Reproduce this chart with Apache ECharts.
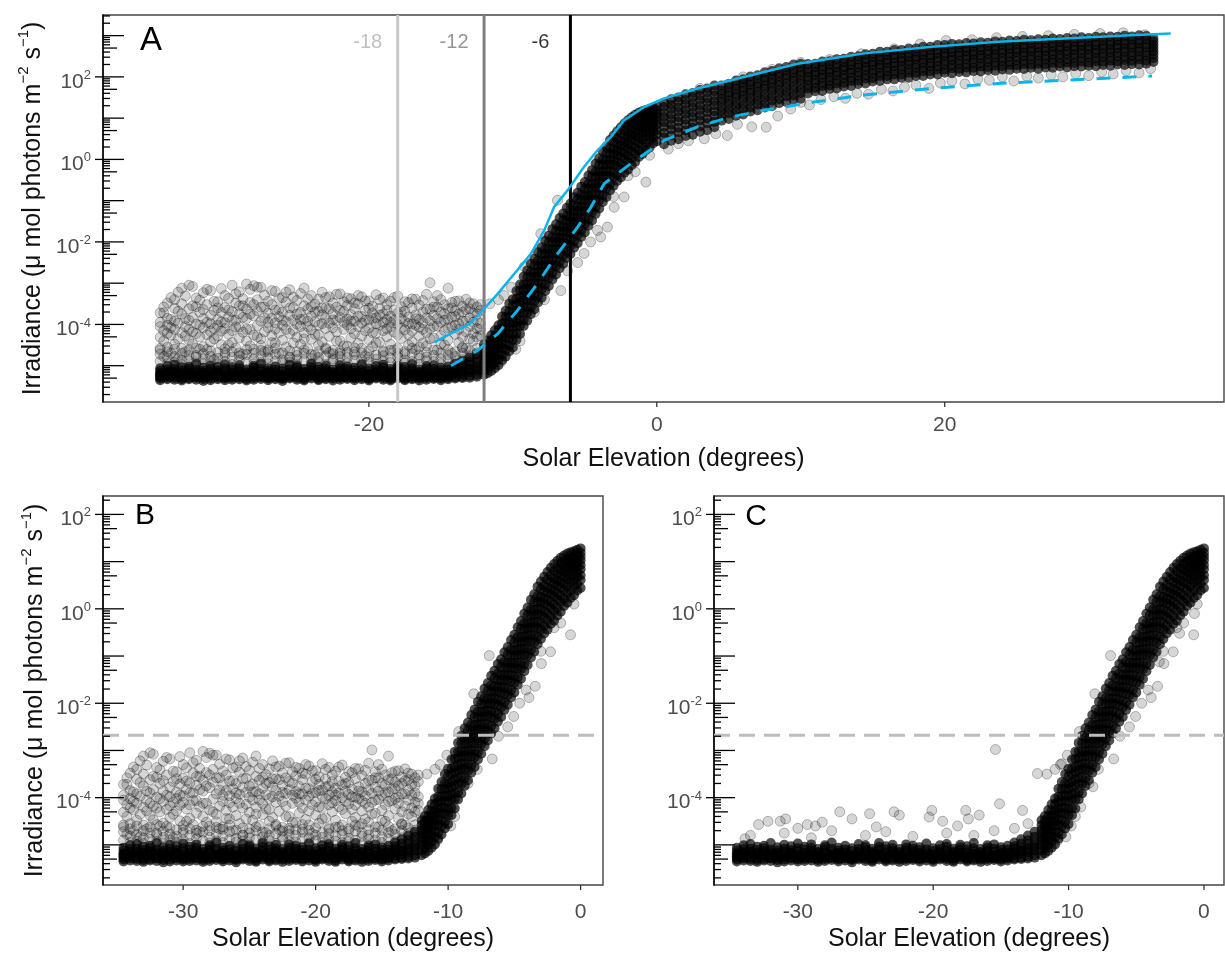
<!DOCTYPE html>
<html>
<head>
<meta charset="utf-8">
<title>Irradiance vs solar elevation</title>
<script src="https://cdn.jsdelivr.net/npm/echarts@6.0.0/dist/echarts.min.js"></script>
<style>
  html, body { margin: 0; padding: 0; background: #fff; }
  #chart { width: 1225px; height: 957px; }
</style>
</head>
<body>
<div id="chart"></div>
<script>
// Solar elevation (degrees) against irradiance; irradiance stored as log10 values.
// Rows are [elevation, log10 readings...], pairs are [elevation, log10 reading].

// dense night floor (panels A, B, C)
const floorRows = [
  [-34.5,-5.31,-5.24,-5.18,-5.12,-5.27,-5.06,-5.35,-5.20],
  [-34.0,-5.29,-5.22,-5.15,-5.33,-5.09,-5.25,-5.01,-5.19],
  [-33.5,-5.34,-5.26,-5.21,-5.14,-5.30,-5.08,-5.17,-4.98],
  [-33.0,-5.28,-5.23,-5.16,-5.11,-5.32,-5.04,-5.20,-5.36],
  [-32.5,-5.30,-5.25,-5.19,-5.13,-5.07,-5.33,-5.22,-5.02],
  [-32.0,-5.27,-5.21,-5.34,-5.15,-5.10,-5.29,-5.18,-4.96],
  [-31.5,-5.32,-5.24,-5.17,-5.12,-5.28,-5.05,-5.20,-5.37],
  [-31.0,-5.26,-5.31,-5.19,-5.14,-5.08,-5.23,-5.35,-5.00],
  [-30.5,-5.29,-5.22,-5.16,-5.33,-5.11,-5.26,-5.03,-5.18],
  [-30.0,-5.31,-5.25,-5.20,-5.13,-5.35,-5.07,-5.28,-4.97],
  [-29.5,-5.27,-5.22,-5.17,-5.30,-5.10,-5.24,-5.34,-5.04],
  [-29.0,-5.33,-5.26,-5.19,-5.12,-5.29,-5.06,-5.21,-4.99],
  [-28.5,-5.28,-5.23,-5.15,-5.32,-5.09,-5.25,-5.18,-5.36],
  [-28.0,-5.30,-5.24,-5.18,-5.11,-5.34,-5.05,-5.27,-5.01],
  [-27.5,-5.26,-5.32,-5.20,-5.14,-5.28,-5.08,-5.22,-4.95],
  [-27.0,-5.31,-5.25,-5.17,-5.12,-5.35,-5.06,-5.29,-5.19],
  [-26.5,-5.29,-5.23,-5.16,-5.33,-5.10,-5.26,-5.02,-5.20],
  [-26.0,-5.32,-5.27,-5.21,-5.13,-5.30,-5.07,-5.24,-5.37],
  [-25.5,-5.28,-5.22,-5.15,-5.31,-5.09,-5.25,-5.18,-4.98],
  [-25.0,-5.30,-5.26,-5.19,-5.12,-5.34,-5.05,-5.23,-5.01],
  [-24.5,-5.27,-5.33,-5.20,-5.14,-5.29,-5.08,-5.17,-5.36],
  [-24.0,-5.31,-5.24,-5.18,-5.11,-5.27,-5.04,-5.22,-4.96],
  [-23.5,-5.29,-5.23,-5.16,-5.32,-5.10,-5.25,-5.35,-5.03],
  [-23.0,-5.33,-5.26,-5.20,-5.13,-5.30,-5.07,-5.19,-5.00],
  [-22.5,-5.28,-5.22,-5.15,-5.31,-5.09,-5.24,-5.18,-5.36],
  [-22.0,-5.30,-5.25,-5.19,-5.12,-5.34,-5.06,-5.27,-4.99],
  [-21.5,-5.27,-5.32,-5.21,-5.14,-5.29,-5.08,-5.23,-5.02],
  [-21.0,-5.31,-5.24,-5.17,-5.11,-5.35,-5.05,-5.28,-5.20],
  [-20.5,-5.29,-5.23,-5.16,-5.33,-5.10,-5.26,-5.19,-4.97],
  [-20.0,-5.32,-5.27,-5.20,-5.13,-5.30,-5.07,-5.22,-5.36],
  [-19.5,-5.28,-5.22,-5.15,-5.31,-5.09,-5.25,-5.18,-5.01],
  [-19.0,-5.30,-5.26,-5.19,-5.12,-5.34,-5.04,-5.23,-4.98],
  [-18.5,-5.27,-5.33,-5.20,-5.14,-5.29,-5.08,-5.17,-5.36],
  [-18.0,-5.31,-5.24,-5.18,-5.11,-5.27,-5.05,-5.22,-5.00],
  [-17.5,-5.29,-5.23,-5.16,-5.32,-5.10,-5.25,-5.35,-5.03],
  [-17.0,-5.33,-5.26,-5.20,-5.13,-5.30,-5.07,-5.19,-4.96],
  [-16.5,-5.28,-5.22,-5.15,-5.31,-5.09,-5.24,-5.18,-5.36],
  [-16.0,-5.30,-5.25,-5.19,-5.12,-5.34,-5.06,-5.27,-5.01],
  [-15.5,-5.27,-5.32,-5.21,-5.14,-5.29,-5.08,-5.23,-4.99],
  [-15.0,-5.31,-5.24,-5.17,-5.11,-5.35,-5.05,-5.28,-5.20],
  [-14.5,-5.29,-5.23,-5.16,-5.33,-5.10,-5.26,-5.19,-5.02],
  [-14.0,-5.28,-5.22,-5.15,-5.09,-5.31,-5.03,-5.18,-4.95],
  [-13.5,-5.27,-5.20,-5.13,-5.06,-5.30,-4.97,-5.12,-4.88],
  [-13.0,-5.25,-5.16,-5.07,-4.98,-5.29,-4.90,-5.11,-4.80],
  [-12.5,-5.22,-5.12,-5.02,-4.92,-5.27,-4.83,-5.06,-4.72]
];

// scattered night cloud above the floor (panels A, B)
const cloudRows = [
  [-34.50,-4.62,-3.95,-4.31,-4.05,-3.72],[-34.25,-4.15,-3.72,-4.78,-4.40,-3.58],
  [-34.00,-3.48,-4.55,-4.02,-4.22,-3.85],[-33.75,-3.88,-4.26,-3.35,-4.70,-4.08],
  [-33.50,-4.12,-3.61,-4.48,-3.92,-3.40],[-33.25,-3.22,-3.97,-4.35,-4.83,-3.68],
  [-33.00,-3.75,-4.20,-3.50,-4.58,-3.12],[-32.75,-4.05,-3.31,-4.66,-3.86,-4.28],
  [-32.50,-3.62,-4.38,-3.90,-4.12,-3.05],[-32.25,-3.08,-4.47,-3.83,-4.18,-3.55],
  [-32.00,-4.22,-3.57,-4.75,-3.99,-3.36],[-31.75,-3.70,-4.30,-3.41,-4.02,-4.60],
  [-31.50,-4.08,-3.23,-4.54,-3.86,-3.64],[-31.25,-3.95,-4.61,-3.52,-4.25,-3.15],
  [-31.00,-3.18,-4.17,-3.78,-4.42,-3.98],[-30.75,-4.35,-3.66,-4.85,-3.44,-4.10],
  [-30.50,-3.45,-4.02,-4.28,-3.88,-3.60],[-30.25,-3.71,-4.49,-3.13,-4.16,-3.94],
  [-30.00,-4.10,-3.59,-4.68,-3.96,-3.30],[-29.75,-3.37,-4.24,-3.82,-4.50,-3.65],
  [-29.50,-4.44,-3.05,-3.69,-4.15,-3.90],[-29.25,-3.90,-4.57,-3.48,-4.06,-3.26],
  [-29.00,-3.21,-4.06,-4.33,-3.74,-3.55],[-28.75,-4.72,-3.55,-4.19,-3.83,-3.38],
  [-28.50,-3.02,-3.86,-4.40,-3.63,-4.12],[-28.25,-3.15,-4.12,-3.47,-3.75,-4.52],
  [-28.00,-3.06,-3.79,-4.26,-4.60,-3.52],[-27.75,-3.40,-4.03,-3.67,-4.30,-3.10],
  [-27.50,-3.10,-4.35,-3.92,-4.51,-3.58],[-27.25,-3.58,-4.18,-3.29,-3.84,-4.66],
  [-27.00,-4.08,-3.73,-4.62,-3.44,-3.95],[-26.75,-3.85,-4.27,-3.52,-3.18,-4.44],
  [-26.50,-3.20,-4.45,-3.96,-4.11,-3.65],[-26.25,-3.64,-4.70,-3.81,-4.20,-3.37],
  [-26.00,-3.35,-4.02,-4.38,-3.70,-3.90],[-25.75,-3.93,-4.55,-3.46,-4.12,-3.22],
  [-25.50,-3.16,-3.78,-4.22,-4.80,-3.60],[-25.25,-3.59,-4.14,-3.89,-4.45,-3.34],
  [-25.00,-4.31,-3.42,-3.99,-4.66,-3.75],[-24.75,-3.71,-4.48,-3.25,-4.05,-3.88],
  [-24.50,-3.12,-3.87,-4.20,-3.55,-4.35],[-24.25,-4.05,-3.63,-4.59,-3.38,-3.92],
  [-24.00,-3.30,-4.36,-3.80,-4.13,-3.57],[-23.75,-3.94,-4.74,-3.51,-4.24,-3.70],
  [-23.50,-3.68,-4.25,-3.39,-4.02,-4.50],[-23.25,-4.42,-3.77,-3.22,-3.98,-3.60],
  [-23.00,-3.60,-4.10,-4.57,-3.85,-3.35],[-22.75,-3.33,-4.29,-3.97,-3.62,-4.68],
  [-22.50,-3.74,-4.63,-3.48,-4.08,-3.89],[-22.25,-4.18,-3.58,-3.91,-4.40,-3.27],
  [-22.00,-3.26,-4.40,-3.83,-4.70,-3.66],[-21.75,-3.69,-4.12,-3.45,-3.95,-4.52],
  [-21.50,-4.01,-3.54,-4.53,-3.87,-3.36],[-21.25,-3.38,-4.33,-3.76,-4.10,-3.92],
  [-21.00,-3.92,-4.22,-3.62,-4.67,-3.48],[-20.75,-3.50,-4.05,-4.46,-3.80,-3.30],
  [-20.50,-3.81,-3.33,-4.28,-3.97,-4.58],[-20.25,-4.15,-3.66,-4.76,-3.43,-3.90],
  [-20.00,-3.43,-3.89,-4.37,-4.09,-3.61],[-19.75,-3.72,-4.54,-3.56,-4.20,-3.85],
  [-19.50,-3.98,-3.28,-4.21,-3.84,-4.45],[-19.25,-4.43,-3.61,-4.02,-3.40,-3.77],
  [-19.00,-3.36,-3.95,-4.64,-3.75,-4.15],[-18.75,-4.11,-3.52,-4.30,-3.88,-3.66],
  [-18.50,-3.80,-4.48,-3.44,-4.06,-3.95],[-18.25,-3.65,-4.19,-3.90,-4.62,-3.35],
  [-18.00,-3.31,-4.00,-4.58,-3.73,-4.25],[-17.75,-3.86,-4.34,-3.57,-4.08,-3.70],
  [-17.50,-4.13,-3.68,-4.71,-3.93,-3.45],[-17.25,-3.47,-4.25,-3.82,-4.50,-3.98],
  [-17.00,-3.99,-3.60,-4.42,-4.16,-3.38],[-16.75,-3.39,-3.77,-4.61,-4.02,-3.86],
  [-16.50,-4.07,-3.53,-4.28,-3.88,-4.55],[-16.25,-3.70,-4.45,-3.96,-3.42,-4.12],
  [-16.00,-3.27,-3.84,-4.20,-4.52,-3.63],[-15.75,-2.99,-3.63,-4.10,-3.91,-4.35],
  [-15.50,-3.45,-4.33,-3.78,-4.05,-3.58],[-15.25,-3.58,-4.04,-4.62,-3.86,-3.30],
  [-15.00,-3.40,-3.95,-4.27,-3.70,-4.48],[-14.75,-3.74,-4.15,-3.52,-4.50,-3.90],
  [-14.50,-3.12,-3.88,-4.38,-3.62,-4.08],[-14.25,-3.60,-4.06,-3.47,-4.70,-3.82],
  [-14.00,-3.81,-4.24,-3.67,-4.02,-3.44],[-13.75,-3.43,-3.99,-4.44,-4.12,-3.75],
  [-13.50,-3.70,-4.30,-3.56,-3.92,-4.55],[-13.25,-3.39,-3.92,-4.18,-4.58,-3.64],
  [-13.00,-3.62,-4.05,-3.84,-4.35,-3.48],[-12.75,-3.50,-4.22,-3.95,-4.40,-3.72],
  [-12.50,-3.75,-4.10,-3.58,-4.30,-3.90],[-12.25,-3.66,-3.98,-4.27,-3.52,-4.12]
];

// lower edge of the cloud, where it meets the floor (panels A, B)
const cloudLowRows = [
  [-34.5,-4.90,-4.72,-4.58],[-34.0,-4.95,-4.66,-4.81],[-33.5,-4.78,-4.92,-4.60],[-33.0,-4.86,-4.70,-4.97],
  [-32.5,-4.62,-4.88,-4.75],[-32.0,-4.93,-4.79,-4.57],[-31.5,-4.71,-4.96,-4.84],[-31.0,-4.89,-4.64,-4.77],
  [-30.5,-4.82,-4.95,-4.68],[-30.0,-4.74,-4.90,-4.59],[-29.5,-4.97,-4.80,-4.66],[-29.0,-4.69,-4.87,-4.76],
  [-28.5,-4.91,-4.73,-4.61],[-28.0,-4.84,-4.96,-4.70],[-27.5,-4.77,-4.63,-4.92],[-27.0,-4.95,-4.81,-4.67],
  [-26.5,-4.72,-4.89,-4.58],[-26.0,-4.86,-4.69,-4.94],[-25.5,-4.64,-4.92,-4.79],[-25.0,-4.98,-4.75,-4.85],
  [-24.5,-4.70,-4.88,-4.62],[-24.0,-4.83,-4.95,-4.73],[-23.5,-4.91,-4.66,-4.80],[-23.0,-4.76,-4.97,-4.60],
  [-22.5,-4.88,-4.71,-4.83],[-22.0,-4.65,-4.93,-4.78],[-21.5,-4.94,-4.80,-4.68],[-21.0,-4.73,-4.87,-4.57],
  [-20.5,-4.85,-4.96,-4.69],[-20.0,-4.79,-4.64,-4.91],[-19.5,-4.96,-4.74,-4.84],[-19.0,-4.67,-4.89,-4.76],
  [-18.5,-4.92,-4.81,-4.63],[-18.0,-4.78,-4.95,-4.70],[-17.5,-4.86,-4.66,-4.93],[-17.0,-4.71,-4.90,-4.58],
  [-16.5,-4.97,-4.82,-4.74],[-16.0,-4.68,-4.88,-4.79],[-15.5,-4.90,-4.75,-4.62],[-15.0,-4.83,-4.95,-4.69],
  [-14.5,-4.74,-4.61,-4.87],[-14.0,-4.93,-4.78,-4.66],[-13.5,-4.70,-4.85,-4.57],[-13.0,-4.88,-4.64,-4.76],
  [-12.5,-4.80,-4.58,-4.69]
];

// twilight rise (panels A, B, C)
const riseRows = [
  [-12.00,-5.22,-5.12,-5.01,-4.93,-4.85,-4.76,-4.68,-4.58,-4.48],
  [-11.75,-5.18,-5.07,-4.96,-4.86,-4.78,-4.68,-4.59,-4.49,-4.39],
  [-11.50,-5.13,-5.00,-4.90,-4.78,-4.68,-4.59,-4.48,-4.39,-4.26],
  [-11.25,-5.06,-4.93,-4.81,-4.70,-4.59,-4.50,-4.38,-4.28,-4.14],
  [-11.00,-4.99,-4.84,-4.73,-4.60,-4.49,-4.38,-4.28,-4.14,-4.02],
  [-10.75,-4.87,-4.74,-4.58,-4.47,-4.32,-4.23,-4.09,-3.98,-3.81],
  [-10.50,-4.78,-4.61,-4.48,-4.33,-4.22,-4.08,-3.97,-3.82,-3.67],
  [-10.25,-4.65,-4.51,-4.34,-4.22,-4.07,-3.96,-3.81,-3.69,-3.50],
  [-10.00,-4.56,-4.37,-4.24,-4.08,-3.96,-3.82,-3.71,-3.54,-3.39],
  [-9.75,-4.37,-4.22,-4.04,-3.92,-3.77,-3.66,-3.51,-3.38,-3.19],
  [-9.50,-4.23,-4.04,-3.90,-3.73,-3.61,-3.46,-3.35,-3.18,-3.03],
  [-9.25,-4.04,-3.89,-3.71,-3.58,-3.42,-3.31,-3.16,-3.03,-2.84],
  [-9.00,-3.91,-3.71,-3.57,-3.40,-3.28,-3.13,-3.02,-2.85,-2.69],
  [-8.75,-3.75,-3.59,-3.41,-3.28,-3.12,-3.01,-2.86,-2.73,-2.53],
  [-8.50,-3.63,-3.43,-3.29,-3.12,-3.00,-2.85,-2.74,-2.57,-2.41],
  [-8.25,-3.47,-3.31,-3.13,-3.00,-2.84,-2.73,-2.58,-2.45,-2.25],
  [-8.00,-3.35,-3.15,-3.01,-2.84,-2.72,-2.57,-2.46,-2.29,-2.13],
  [-7.75,-3.19,-3.03,-2.85,-2.72,-2.56,-2.45,-2.30,-2.17,-1.97],
  [-7.50,-3.07,-2.87,-2.73,-2.56,-2.44,-2.29,-2.18,-2.01,-1.85],
  [-7.25,-2.91,-2.75,-2.57,-2.44,-2.28,-2.17,-2.02,-1.89,-1.69],
  [-7.00,-2.79,-2.59,-2.45,-2.28,-2.16,-2.01,-1.90,-1.73,-1.57],
  [-6.75,-2.64,-2.48,-2.30,-2.17,-2.01,-1.90,-1.75,-1.62,-1.42],
  [-6.50,-2.53,-2.33,-2.19,-2.02,-1.90,-1.75,-1.64,-1.47,-1.31],
  [-6.25,-2.39,-2.23,-2.05,-1.92,-1.76,-1.65,-1.50,-1.37,-1.17],
  [-6.00,-2.29,-2.09,-1.95,-1.78,-1.66,-1.51,-1.40,-1.23,-1.07],
  [-5.75,-2.14,-1.98,-1.80,-1.67,-1.51,-1.40,-1.25,-1.12,-0.92],
  [-5.50,-2.03,-1.83,-1.69,-1.52,-1.40,-1.25,-1.14,-0.97,-0.81],
  [-5.25,-1.88,-1.72,-1.54,-1.41,-1.25,-1.14,-0.99,-0.86,-0.66],
  [-5.00,-1.77,-1.57,-1.43,-1.26,-1.14,-0.99,-0.88,-0.71,-0.55],
  [-4.75,-1.61,-1.45,-1.27,-1.14,-0.98,-0.87,-0.72,-0.59,-0.39],
  [-4.50,-1.48,-1.28,-1.14,-0.97,-0.85,-0.70,-0.59,-0.42,-0.26],
  [-4.25,-1.32,-1.16,-0.98,-0.85,-0.69,-0.58,-0.43,-0.30,-0.10],
  [-4.00,-1.19,-0.99,-0.85,-0.68,-0.56,-0.41,-0.30,-0.13,0.03],
  [-3.75,-1.03,-0.87,-0.69,-0.56,-0.40,-0.29,-0.14,-0.01,0.19],
  [-3.50,-0.91,-0.71,-0.57,-0.40,-0.28,-0.13,-0.02,0.15,0.31],
  [-3.25,-0.75,-0.59,-0.41,-0.28,-0.12,-0.01,0.14,0.27,0.47],
  [-3.00,-0.64,-0.44,-0.30,-0.13,-0.01,0.14,0.25,0.42,0.58],
  [-2.75,-0.52,-0.36,-0.18,-0.05,0.11,0.22,0.37,0.50,0.68],
  [-2.50,-0.44,-0.24,-0.10,0.07,0.19,0.34,0.45,0.62,0.78],
  [-2.25,-0.32,-0.16,0.02,0.15,0.31,0.42,0.57,0.70,0.87],
  [-2.00,-0.25,-0.05,0.09,0.26,0.38,0.53,0.64,0.80,0.95],
  [-1.75,-0.14,0.02,0.20,0.33,0.49,0.60,0.74,0.86,1.02],
  [-1.50,-0.06,0.14,0.28,0.45,0.57,0.70,0.82,0.95,1.08],
  [-1.25,0.06,0.22,0.40,0.53,0.67,0.78,0.90,1.01,1.13],
  [-1.00,0.13,0.33,0.47,0.62,0.74,0.86,0.96,1.06,1.17],
  [-0.75,0.23,0.39,0.56,0.68,0.80,0.90,1.00,1.10,1.20],
  [-0.50,0.29,0.48,0.60,0.73,0.85,0.95,1.04,1.13,1.22],
  [-0.25,0.39,0.53,0.68,0.78,0.90,0.99,1.08,1.16,1.25],
  [0.00,0.44,0.61,0.71,0.84,0.93,1.03,1.11,1.19,1.28]
];

// daytime band (panel A)
const dayRows = [
  [0.5,0.37,0.53,0.64,0.79,0.90,1.03,1.13,1.27,1.37],
  [1.0,0.45,0.58,0.73,0.84,0.98,1.08,1.22,1.32,1.45],
  [1.5,0.49,0.66,0.77,0.92,1.02,1.16,1.26,1.40,1.50],
  [2.0,0.57,0.70,0.85,0.96,1.10,1.20,1.34,1.44,1.58],
  [2.5,0.60,0.77,0.88,1.03,1.13,1.27,1.37,1.51,1.61],
  [3.0,0.67,0.80,0.95,1.06,1.20,1.30,1.44,1.54,1.68],
  [3.5,0.71,0.88,0.99,1.14,1.24,1.38,1.48,1.62,1.72],
  [4.0,0.78,0.91,1.06,1.17,1.31,1.41,1.55,1.65,1.79],
  [4.5,0.94,1.04,1.17,1.26,1.39,1.47,1.59,1.67,1.79],
  [5.0,0.98,1.12,1.21,1.34,1.43,1.55,1.63,1.75,1.83],
  [5.5,1.06,1.16,1.29,1.38,1.51,1.59,1.71,1.79,1.91],
  [6.0,1.09,1.23,1.32,1.45,1.54,1.66,1.74,1.86,1.94],
  [6.5,1.16,1.26,1.39,1.48,1.61,1.69,1.81,1.89,2.01],
  [7.0,1.19,1.33,1.42,1.55,1.64,1.76,1.84,1.96,2.04],
  [7.5,1.26,1.36,1.49,1.58,1.71,1.79,1.91,1.99,2.11],
  [8.0,1.29,1.43,1.52,1.65,1.74,1.86,1.94,2.06,2.14],
  [8.5,1.36,1.46,1.59,1.68,1.81,1.89,2.01,2.09,2.21],
  [9.0,1.39,1.53,1.62,1.75,1.84,1.96,2.04,2.16,2.24],
  [9.5,1.45,1.55,1.68,1.77,1.90,1.98,2.10,2.18,2.30],
  [10.0,1.47,1.61,1.70,1.83,1.92,2.04,2.12,2.24,2.32],
  [10.5,1.60,1.72,1.80,1.92,2.00,2.11,2.19,2.31],
  [11.0,1.65,1.73,1.85,1.93,2.05,2.12,2.24,2.32],
  [11.5,1.66,1.78,1.86,1.98,2.06,2.17,2.25,2.37],
  [12.0,1.71,1.79,1.91,1.99,2.11,2.18,2.30,2.38],
  [12.5,1.72,1.84,1.92,2.04,2.12,2.23,2.31,2.43],
  [13.0,1.77,1.85,1.97,2.05,2.17,2.24,2.36,2.44],
  [13.5,1.78,1.90,1.98,2.10,2.18,2.29,2.37,2.49],
  [14.0,1.83,1.91,2.03,2.11,2.23,2.30,2.42,2.50],
  [14.5,1.84,1.96,2.04,2.16,2.24,2.35,2.43,2.55],
  [15.0,1.89,1.97,2.09,2.17,2.29,2.36,2.48,2.56],
  [15.5,1.90,2.02,2.10,2.22,2.30,2.41,2.49,2.61],
  [16.0,1.94,2.02,2.14,2.22,2.34,2.41,2.53,2.61],
  [16.5,1.94,2.06,2.14,2.26,2.34,2.45,2.53,2.65],
  [17.0,1.98,2.06,2.18,2.26,2.38,2.45,2.57,2.65],
  [17.5,1.98,2.10,2.18,2.30,2.38,2.49,2.57,2.69],
  [18.0,2.02,2.10,2.22,2.30,2.42,2.49,2.61,2.69],
  [18.5,2.02,2.14,2.22,2.34,2.42,2.53,2.61,2.73],
  [19.0,2.06,2.14,2.26,2.34,2.46,2.53,2.65,2.73],
  [19.5,2.06,2.18,2.26,2.38,2.46,2.57,2.65,2.77],
  [20.0,2.10,2.18,2.30,2.38,2.50,2.57,2.69,2.77],
  [20.5,2.09,2.21,2.29,2.41,2.49,2.60,2.68,2.80],
  [21.0,2.12,2.20,2.32,2.40,2.52,2.59,2.71,2.79],
  [21.5,2.11,2.23,2.31,2.43,2.51,2.62,2.70,2.82],
  [22.0,2.14,2.22,2.34,2.42,2.54,2.61,2.73,2.81],
  [22.5,2.13,2.25,2.33,2.45,2.53,2.64,2.72,2.84],
  [23.0,2.16,2.24,2.36,2.44,2.56,2.63,2.75,2.83],
  [23.5,2.15,2.27,2.35,2.47,2.55,2.66,2.74,2.86],
  [24.0,2.18,2.26,2.38,2.46,2.58,2.65,2.77,2.85],
  [24.5,2.17,2.29,2.37,2.49,2.57,2.68,2.76,2.88],
  [25.0,2.20,2.28,2.40,2.48,2.60,2.67,2.79,2.87],
  [25.5,2.19,2.31,2.39,2.51,2.59,2.70,2.78,2.90],
  [26.0,2.22,2.30,2.42,2.50,2.62,2.69,2.81,2.89],
  [26.5,2.20,2.32,2.40,2.52,2.60,2.71,2.79,2.91],
  [27.0,2.23,2.31,2.43,2.51,2.63,2.70,2.82,2.90],
  [27.5,2.22,2.34,2.42,2.54,2.62,2.73,2.81,2.93],
  [28.0,2.25,2.33,2.45,2.53,2.65,2.72,2.84,2.92],
  [28.5,2.23,2.35,2.43,2.55,2.63,2.74,2.82,2.94],
  [29.0,2.26,2.34,2.46,2.54,2.66,2.73,2.85,2.93],
  [29.5,2.25,2.37,2.45,2.57,2.65,2.76,2.84,2.96],
  [30.0,2.27,2.35,2.47,2.55,2.67,2.74,2.86,2.94],
  [30.5,2.26,2.38,2.46,2.58,2.66,2.77,2.85,2.97],
  [31.0,2.29,2.37,2.49,2.57,2.69,2.76,2.88,2.96],
  [31.5,2.27,2.39,2.47,2.59,2.67,2.78,2.86,2.98],
  [32.0,2.30,2.38,2.50,2.58,2.70,2.77,2.89,2.97],
  [32.5,2.29,2.41,2.49,2.61,2.69,2.80,2.88,3.00],
  [33.0,2.31,2.39,2.51,2.59,2.71,2.78,2.90,2.98],
  [33.5,2.30,2.42,2.50,2.62,2.70,2.81,2.89,3.01],
  [34.0,2.32,2.40,2.52,2.60,2.72,2.79,2.91,2.99],
  [34.5,2.36,2.45,2.54,2.62,2.70,2.78,2.86,2.94]
];

// sparse readings off the main band
const riseFringe = [
  [-11.6,-3.50],[-11.0,-3.40],[-10.6,-3.30],[-10.1,-3.10],[-9.5,-4.40],[-9.2,-2.60],
  [-8.5,-3.70],[-8.06,-1.80],[-7.36,-2.61],[-6.9,-0.99],[-6.67,-3.18],[-5.5,-2.50],
  [-5.05,-2.28],[-4.12,-1.72],[-3.9,-1.88],[-3.43,-1.64],[-2.96,-1.16],[-2.27,-0.91],
  [-2.0,-0.40],[-1.5,-0.30],[-0.76,-0.55],[-0.5,0.10],[-7.8,-3.40],[-6.2,-2.70],
  [-4.6,-2.00],[-3.0,-0.90],[-1.2,0.20],[-9.8,-4.60],[-10.8,-4.90]
];
const dayFringe = [
  [0.8,0.25],[1.5,0.38],[2.2,0.45],[3.3,0.50],[4.1,0.62],[4.9,0.58],[5.6,0.85],[6.6,0.79],
  [7.6,0.78],[8.4,1.05],[9.3,1.22],[10.0,1.38],[10.6,1.32],[11.4,1.45],[12.3,1.52],[13.1,1.48],
  [13.9,1.60],[14.7,1.58],[15.6,1.70],[16.4,1.66],[17.2,1.75],[18.0,1.80],[18.9,1.72],[19.7,1.85],
  [20.5,1.90],[21.4,1.83],[22.3,1.95],[23.1,1.92],[24.0,2.00],[24.8,1.90],[25.7,2.02],[26.5,1.97],
  [27.4,2.05],[28.2,2.00],[29.1,2.08],[30.0,2.03],[30.9,2.12],[31.7,2.07],[32.6,2.15],[33.5,2.10],
  [34.3,2.20],[12.0,2.42],[14.2,2.56],[16.5,2.68],[18.3,2.80],[20.1,2.88],[21.9,2.90],[23.6,2.95],
  [25.4,2.98],[27.2,3.00],[29.0,3.03],[30.8,3.05],[32.4,3.07],[33.9,3.02],[6.0,2.00],[8.0,2.18],
  [10.0,2.35],[3.0,1.72],[1.0,1.45]
];
// panel C: low scatter just above the floor and a few outliers
const cScatter = [
  [-33.9,-4.87],[-33.5,-4.80],[-32.9,-4.57],[-32.2,-4.50],[-31.3,-4.50],[-31.0,-4.75],[-30.9,-4.45],
  [-30.0,-4.65],[-29.3,-4.57],[-29.0,-4.85],[-28.7,-4.60],[-28.2,-4.52],[-27.5,-4.70],[-26.9,-4.30],
  [-26.0,-4.45],[-25.0,-4.80],[-24.7,-4.34],[-24.2,-4.62],[-23.5,-4.72],[-22.9,-4.30],[-22.5,-4.37],
  [-21.5,-4.82],[-20.3,-4.41],[-20.1,-4.27],[-19.3,-4.50],[-19.0,-4.75],[-18.2,-4.60],[-17.6,-4.27],
  [-17.4,-4.45],[-17.0,-4.80],[-16.6,-4.37],[-15.5,-4.70],[-15.4,-2.98],[-15.1,-4.13],[-14.0,-4.65],
  [-13.4,-4.27],[-13.0,-4.55],[-12.3,-3.49],[-10.5,-3.28],[-10.2,-4.83],[-9.1,-4.20],[-8.2,-3.77],
  [-3.3,-1.12],[-1.8,-0.52],[-0.7,-0.10]
];

// fitted envelopes in panel A
const upperEnvelope = [
  [-15.46,-4.43],[-13.03,-3.99],[-11.99,-3.62],[-11.06,-3.26],[-9.9,-2.77],[-8.75,-2.29],
  [-7.82,-1.72],[-7.13,-1.15],[-6.2,-0.75],[-5.05,-0.18],[-4.12,0.22],[-3.2,0.54],[-2.27,0.95],
  [-0.88,1.27],[0.51,1.48],[2.82,1.72],[5.14,1.92],[7.45,2.12],[9.77,2.32],[14.4,2.57],
  [19.1,2.73],[23.7,2.85],[28.3,2.93],[32.9,3.01],[35.7,3.05]
];
const lowerEnvelope = [
  [-14.3,-5.0],[-12.45,-4.63],[-11.06,-4.23],[-9.68,-3.66],[-8.29,-3.01],[-6.9,-2.29],
  [-5.5,-1.64],[-4.58,-1.16],[-3.66,-0.59],[-1.8,-0.10],[0.51,0.46],[2.82,0.79],[5.14,1.03],
  [7.45,1.19],[10.9,1.39],[14.4,1.56],[19.1,1.72],[23.7,1.84],[28.3,1.92],[34.4,2.02]
];

// reference lines and axis ticks
const twilightLines = [-18, -12, -6];
const twilightColors = ['#c8c8c8', '#7f7f7f', '#000000'];
const twilightLabelColors = ['#b0b0b0', '#7a7a7a', '#000000'];
const twilightLabelLog = 2.84;
const thresholdLog = -2.68;
const xTicksA = [-20, 0, 20];
const xTicksBC = [-30, -20, -10, 0];
const minorMultipliers = [1, 2, 3, 4, 5, 6, 7, 8, 9];

const FONT = 'Liberation Sans, Arial, Helvetica, sans-serif';
const BLUE = '#0db4ec';

function rowsToPoints(rows, maxX) {
  const out = [];
  rows.forEach(r => {
    if (maxX !== undefined && r[0] > maxX) return;
    for (let i = 1; i < r.length; i++) out.push([r[0], Math.pow(10, r[i])]);
  });
  return out;
}
function pairsToPoints(pairs, maxX) {
  return pairs.filter(p => maxX === undefined || p[0] <= maxX).map(p => [p[0], Math.pow(10, p[1])]);
}

const panels = [
  { grid: { left: 103, top: 15, width: 1121, height: 387 }, x: [-38.47, 39.4], ticks: xTicksA, y: [-5.88, 3.5],
    labelMargin: 13, nameGap: 45, yName: true, letter: 'A', letterPos: [151, 41], letterSize: 33 },
  { grid: { left: 103, top: 496, width: 500, height: 389 }, x: [-36.05, 1.69], ticks: xTicksBC, y: [-5.85, 2.39],
    labelMargin: 17, nameGap: 42, yName: true, letter: 'B', letterPos: [145, 516], letterSize: 30 },
  { grid: { left: 714, top: 496, width: 510, height: 389 }, x: [-36.19, 1.48], ticks: xTicksBC, y: [-5.85, 2.39],
    labelMargin: 17, nameGap: 42, yName: false, letter: 'C', letterPos: [756, 517], letterSize: 30 }
];

const yTitle = '{n|Irradiance (\u03bc mol photons m}{s|\u22122}{n| s}{s|\u22121}{n|)}';

// tick marks: [x, y, dx, dy] drawn from the data point
function tickData(p) {
  const out = [];
  for (let e = Math.floor(p.y[0]); e <= Math.ceil(p.y[1]); e++) {
    minorMultipliers.forEach(m => {
      const lv = e + Math.log10(m);
      if (lv < p.y[0] || lv > p.y[1]) return;
      const len = m === 1 ? 21 : (m === 5 ? 14 : 7);
      out.push([p.x[0], Math.pow(10, lv), len, 0]);
      if (m === 1 && e % 2 === 0) out.push([p.x[0], Math.pow(10, lv), -8, 0]);
    });
  }
  p.ticks.forEach(v => out.push([v, Math.pow(10, p.y[0]), 0, 5]));
  return out;
}

const coreStyle = { color: 'rgba(0,0,0,0.85)', borderWidth: 0 };
const lightStyle = { color: 'rgba(0,0,0,0.2)', borderColor: 'rgba(0,0,0,0.32)', borderWidth: 1 };

function scatter(idx, data, style, z) {
  return {
    type: 'scatter', xAxisIndex: idx, yAxisIndex: idx, data, symbolSize: 10,
    itemStyle: style, silent: true, progressive: 0, large: false, z
  };
}

const series = [];
// panel A
series.push(scatter(0, rowsToPoints(cloudRows).concat(rowsToPoints(cloudLowRows), pairsToPoints(riseFringe), pairsToPoints(dayFringe)), lightStyle, 2));
series.push(scatter(0, rowsToPoints(floorRows).concat(rowsToPoints(riseRows), rowsToPoints(dayRows)), coreStyle, 3));
// panel B
series.push(scatter(1, rowsToPoints(cloudRows).concat(rowsToPoints(cloudLowRows), pairsToPoints(riseFringe, 0)), lightStyle, 2));
series.push(scatter(1, rowsToPoints(floorRows).concat(rowsToPoints(riseRows, 0)), coreStyle, 3));
// panel C
series.push(scatter(2, pairsToPoints(cScatter).concat(pairsToPoints(riseFringe, 0)), lightStyle, 2));
series.push(scatter(2, rowsToPoints(floorRows).concat(rowsToPoints(riseRows, 0)), coreStyle, 3));

// twilight reference lines in A
twilightLines.forEach((v, i) => {
  series.push({
    type: 'line', xAxisIndex: 0, yAxisIndex: 0, silent: true, showSymbol: false, z: 4,
    data: [[v, Math.pow(10, panels[0].y[0])], [v, Math.pow(10, panels[0].y[1])]],
    lineStyle: { color: twilightColors[i], width: 3 }
  });
});
series.push({
  type: 'scatter', xAxisIndex: 0, yAxisIndex: 0, silent: true, symbolSize: 0, z: 7,
  data: twilightLines.map((v, i) => ({
    value: [v, Math.pow(10, twilightLabelLog)],
    label: { color: twilightLabelColors[i] }
  })),
  label: {
    show: true, position: [-30, 0], align: 'center', verticalAlign: 'middle',
    fontSize: 20, fontFamily: FONT,
    formatter: p => String(twilightLines[p.dataIndex])
  }
});

series.push({
  type: 'line', xAxisIndex: 0, yAxisIndex: 0, silent: true, showSymbol: false, z: 5,
  data: upperEnvelope.map(p => [p[0], Math.pow(10, p[1])]),
  lineStyle: { color: BLUE, width: 2.5 }
});
series.push({
  type: 'line', xAxisIndex: 0, yAxisIndex: 0, silent: true, showSymbol: false, z: 5,
  data: lowerEnvelope.map(p => [p[0], Math.pow(10, p[1])]),
  lineStyle: { color: BLUE, width: 3, type: [14, 12] }
});

// threshold line in B and C
[1, 2].forEach(i => {
  series.push({
    type: 'line', xAxisIndex: i, yAxisIndex: i, silent: true, showSymbol: false, z: 5,
    data: [[panels[i].x[0], Math.pow(10, thresholdLog)], [panels[i].x[1], Math.pow(10, thresholdLog)]],
    lineStyle: { color: '#bdbdbd', width: 3, type: [16, 9] }
  });
});

// axis tick marks (log decades, fives, minor ticks, and x ticks)
panels.forEach((p, i) => {
  series.push({
    type: 'custom', xAxisIndex: i, yAxisIndex: i, silent: true, clip: false, z: 8,
    data: tickData(p), encode: { x: 0, y: 1 },
    renderItem: (params, api) => {
      const pt = api.coord([api.value(0), api.value(1)]);
      return {
        type: 'line',
        shape: { x1: pt[0], y1: pt[1], x2: pt[0] + api.value(2), y2: pt[1] + api.value(3) },
        style: { stroke: api.value(3) ? '#333' : '#000', lineWidth: 1.3 }
      };
    }
  });
});

const option = {
  animation: false,
  backgroundColor: '#fff',
  grid: panels.map(p => Object.assign({
    show: true, borderColor: '#444', borderWidth: 1.4, backgroundColor: 'transparent',
    containLabel: false, outerBoundsMode: 'none'
  }, p.grid)),
  xAxis: panels.map((p, i) => ({
    type: 'value', gridIndex: i, min: p.x[0], max: p.x[1],
    axisLine: { show: false, onZero: false },
    axisTick: { show: false },
    splitLine: { show: false },
    axisLabel: {
      margin: p.labelMargin, color: '#4d4d4d', fontSize: 21, fontFamily: FONT,
      formatter: v => {
        const hit = p.ticks.find(t => Math.abs(t - v) < 1e-6);
        return hit === undefined ? '' : String(hit);
      }
    },
    name: 'Solar Elevation (degrees)', nameLocation: 'middle', nameGap: p.nameGap,
    nameTextStyle: { fontSize: 25, color: '#111', fontFamily: FONT }
  })),
  yAxis: panels.map((p, i) => ({
    type: 'log', logBase: 10, gridIndex: i, min: Math.pow(10, p.y[0]), max: Math.pow(10, p.y[1]),
    position: 'left',
    axisLine: { show: true, onZero: false, lineStyle: { color: '#000', width: 1.5 } },
    axisTick: { show: false }, minorTick: { show: false }, splitLine: { show: false },
    axisLabel: {
      margin: 12, padding: [10, 0, 0, 0],
      formatter: v => {
        const lv = Math.log10(v);
        const e = Math.round(lv);
        if (Math.abs(lv - e) > 1e-6 || e % 2 !== 0) return '';
        return '{b|10}{s|' + e + '}';
      },
      rich: {
        b: { fontSize: 21, lineHeight: 26, color: '#4d4d4d', fontFamily: FONT },
        s: { fontSize: 13, lineHeight: 12, verticalAlign: 'top', color: '#4d4d4d', fontFamily: FONT }
      }
    },
    name: p.yName ? yTitle : '', nameLocation: 'middle', nameRotate: 90, nameGap: 52,
    nameTextStyle: {
      fontFamily: FONT, color: '#111',
      rich: {
        n: { fontSize: 25, lineHeight: 32, color: '#111', fontFamily: FONT },
        s: { fontSize: 15, lineHeight: 14, verticalAlign: 'top', color: '#111', fontFamily: FONT }
      }
    }
  })),
  graphic: panels.map(p => ({
    type: 'text', x: p.letterPos[0], y: p.letterPos[1], z: 10, silent: true,
    style: {
      text: p.letter, fontSize: p.letterSize, fontFamily: FONT, fill: '#000',
      textAlign: 'center', textVerticalAlign: 'middle'
    }
  })),
  series
};

const chart = echarts.init(document.getElementById('chart'), null, { renderer: 'canvas' });
chart.setOption(option);
</script>
</body>
</html>
